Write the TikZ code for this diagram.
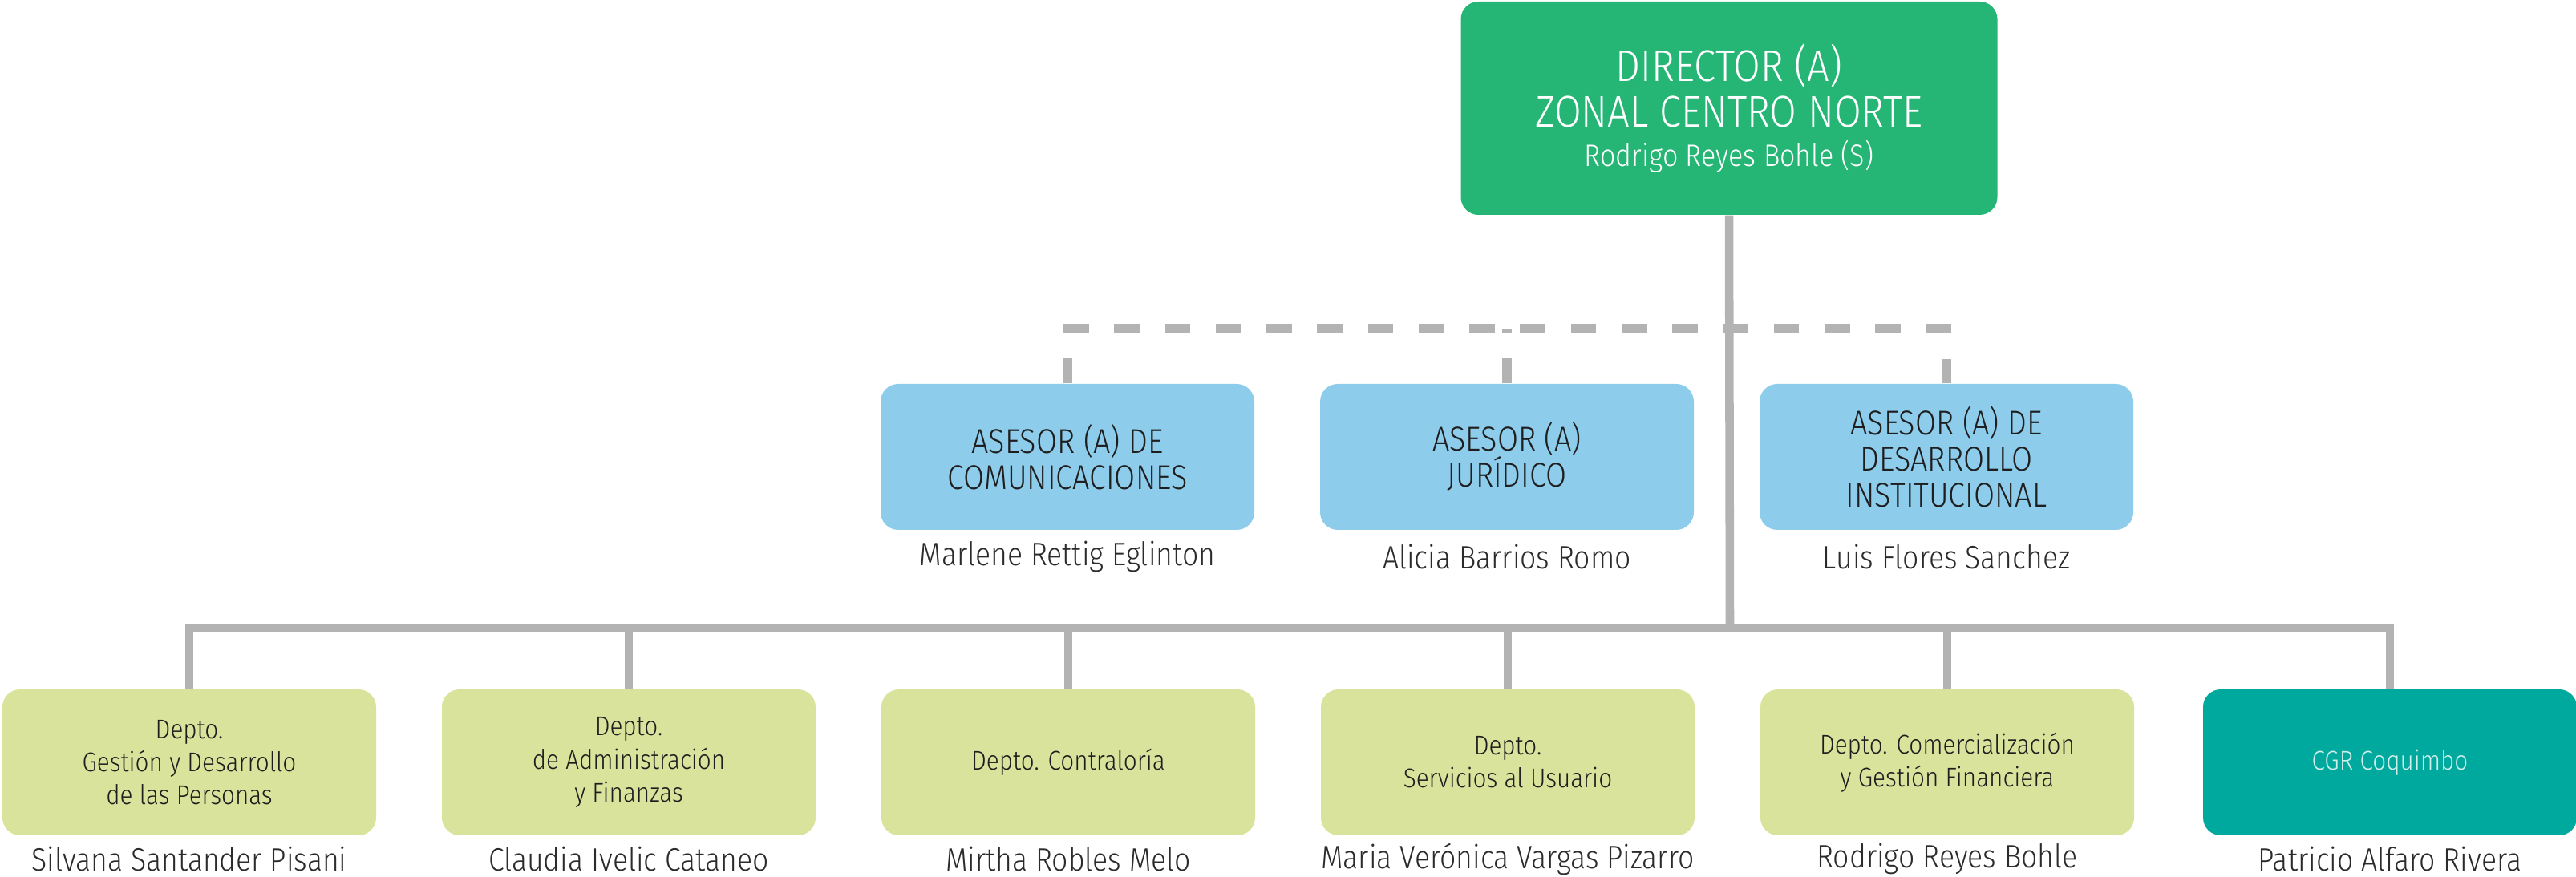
\documentclass[tikz,border=0pt]{standalone}
\usepackage{fontspec}
\setmainfont{Fira Sans Light}[FakeStretch=0.88]
\usetikzlibrary{positioning}

\definecolor{dirgreen}{HTML}{25B574}
\definecolor{advblue}{HTML}{8ECCEB}
\definecolor{deptlime}{HTML}{DAE39C}
\definecolor{cgrteal}{HTML}{00A99D}
\definecolor{cgrtext}{HTML}{CFEFEA}
\definecolor{linegray}{HTML}{B3B3B3}
\definecolor{txtdark}{HTML}{1E1E1E}
\definecolor{txtname}{HTML}{2B2B2B}

\begin{document}
\begin{tikzpicture}[
    orgbox/.style={rectangle, rounded corners=0.22cm, minimum width=4.66cm,
                   minimum height=1.82cm, align=center, inner sep=0pt},
    headbox/.style={orgbox, fill=dirgreen, text=white, minimum width=6.69cm,
                    minimum height=2.66cm, font=\fontsize{15.8}{16.2}\selectfont},
    advbox/.style={orgbox, fill=advblue, text=txtdark, font=\fontsize{12.2}{12.8}\selectfont},
    deptbox/.style={orgbox, fill=deptlime, text=txtdark, font=\fontsize{9.6}{11.7}\selectfont},
    unitbox/.style={orgbox, fill=cgrteal, text=cgrtext, font=\fontsize{9.6}{11.7}\selectfont},
    person/.style={text=txtname, inner sep=0pt, font=\fontsize{11.5}{13}\selectfont},
    link/.style={draw=linegray, line width=3pt},
    dotlink/.style={draw=linegray, line width=3.6pt, dash pattern=on 9pt off 9pt}
]
    \useasboundingbox (0,0) rectangle (32.12,10.94);

    % Director
    \node at (21.56, 9.59) [headbox] (dir) {DIRECTOR (A)\\ZONAL CENTRO NORTE\\[-2.2pt]%
        {\fontsize{11}{14}\selectfont Rodrigo Reyes Bohle (S)}};

    % Asesores
    \node at (13.31, 5.24) [advbox] (adv1) {ASESOR (A) DE\\COMUNICACIONES};
    \node at (18.79, 5.24) [advbox] (adv2) {ASESOR (A)\\JURÍDICO};
    \node at (24.27, 5.24) [advbox] (adv3) {ASESOR (A) DE\\DESARROLLO\\INSTITUCIONAL};
    \node at ([yshift=-0.33cm]adv1.south) [person] (nadv1) {Marlene Rettig Eglinton};
    \node at ([yshift=-0.33cm]adv2.south) [person] (nadv2) {Alicia Barrios Romo};
    \node at ([yshift=-0.33cm]adv3.south) [person] (nadv3) {Luis Flores Sanchez};

    % Departamentos
    \node at (2.36, 1.43) [deptbox] (dep1) {Depto.\\Gestión y Desarrollo\\de las Personas};
    \node at (7.84, 1.43) [deptbox] (dep2) {Depto.\\de Administración\\y Finanzas};
    \node at (13.32, 1.43) [deptbox] (dep3) {Depto. Contraloría};
    \node at (18.80, 1.43) [deptbox] (dep4) {Depto.\\Servicios al Usuario};
    \node at (24.28, 1.43) [deptbox] (dep5) {Depto. Comercialización\\y Gestión Financiera};
    \node at (29.80, 1.43) [unitbox] (dep6) {CGR Coquimbo};
    \node at ([yshift=-0.29cm]dep1.south) [person] (ndep1) {Silvana Santander Pisani};
    \node at ([yshift=-0.29cm]dep2.south) [person] (ndep2) {Claudia Ivelic Cataneo};
    \node at ([yshift=-0.29cm]dep3.south) [person] (ndep3) {Mirtha Robles Melo};
    \node at ([yshift=-0.29cm]dep4.south) [person] (ndep4) {Maria Verónica Vargas Pizarro};
    \node at ([yshift=-0.29cm]dep5.south) [person] (ndep5) {Rodrigo Reyes Bohle};
    \node at ([yshift=-0.29cm]dep6.south) [person] (ndep6) {Patricio Alfaro Rivera};

    % Lineas
    \coordinate (hub) at (21.57, 3.10);
    \coordinate (dashrow) at (21.57, 6.84);
    \draw[dotlink] (adv1.north) |- (dashrow) -| (adv3.north);
    \draw[dotlink] (adv2.north) -- (adv2.north |- dashrow);
    \draw[link] (dir.south) -- (hub);
    \draw[link] (dep1.north) |- (dep6.north |- hub) -- (dep6.north);
    \foreach \i in {2,...,5}
        \draw[link] (dep\i.north |- hub) -- (dep\i.north);
\end{tikzpicture}
\end{document}
